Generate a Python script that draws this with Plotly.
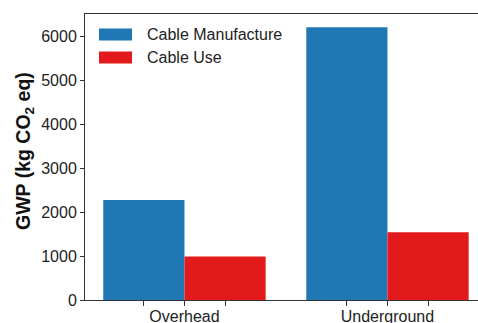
import plotly.graph_objects as go

# Global warming potential of cable options
categories = ["Overhead", "Underground"]
series_names = ["Cable Manufacture", "Cable Use"]
manufacture = [2270, 6200]
use = [990, 1540]
colors = ["#1f77b4", "#e31a1c"]
y_title = "<b>GWP (kg CO<sub>2</sub> eq)</b>"

BAR_W = 0.4
positions = list(range(len(categories)))

fig = go.Figure()
for name, vals, col, off in zip(series_names, [manufacture, use], colors, [-BAR_W / 2, BAR_W / 2]):
    fig.add_trace(go.Bar(
        x=[p + off for p in positions], y=vals, width=BAR_W, name=name,
        marker=dict(color=col, line=dict(width=0)), showlegend=False,
    ))

font = "Liberation Sans, Arial, sans-serif"
L, R, T, B = 85, 0, 14, 23
W, H = 478, 323
pw, ph = W - L - R, H - T - B

def px_x(px):
    return (px - L) / pw

def px_y(py):
    return (H - B - py) / ph

# Hand-drawn legend with wide patches
legend_rows = [(28.5, 40.5), (51.5, 63.5)]
for name, col, (y0, y1) in zip(series_names, colors, legend_rows):
    fig.add_shape(type="rect", xref="paper", yref="paper",
                  x0=px_x(99), x1=px_x(132), y0=px_y(y1), y1=px_y(y0),
                  fillcolor=col, line=dict(width=0))
    fig.add_annotation(xref="paper", yref="paper", x=px_x(145), y=px_y((y0 + y1) / 2),
                       text=name, showarrow=False, xanchor="left", yanchor="middle",
                       font=dict(family=font, size=16, color="#222"))

# Vertical y-axis title
fig.add_annotation(xref="paper", yref="paper", x=px_x(24), y=px_y(151), text=y_title,
                   textangle=-90, showarrow=False, xanchor="center", yanchor="middle",
                   font=dict(family=font, size=19.5, color="#111"))

minor_vals = [p + d for p in positions for d in (-BAR_W / 2, BAR_W / 2)]

fig.update_layout(
    width=W, height=H, margin=dict(l=L, r=R, t=T, b=B, autoexpand=False),
    paper_bgcolor="white", plot_bgcolor="white",
    barmode="overlay",
    font=dict(family=font, size=16, color="#222"),
    xaxis=dict(
        range=[-0.49, 1.446], tickmode="array", tickvals=positions, ticktext=categories,
        ticks="outside", ticklen=5, tickwidth=1, tickcolor="#333",
        minor=dict(tickmode="array", tickvals=minor_vals, ticks="outside", ticklen=5,
                   tickwidth=1, tickcolor="#333"),
        showline=True, linecolor="#333", linewidth=1, mirror=True,
        showgrid=False, zeroline=False, tickfont=dict(size=16, color="#222"),
        automargin=False, ticklabelstandoff=-3,
    ),
    yaxis=dict(
        range=[0, 6500], tickmode="array", tickvals=[0, 1000, 2000, 3000, 4000, 5000, 6000],
        ticks="outside", ticklen=4, tickwidth=1, tickcolor="#333",
        showline=True, linecolor="#333", linewidth=1, automargin=False,
        showgrid=False, zeroline=False, tickfont=dict(size=16, color="#222"),
    ),
)

fig.write_html("out.html")
